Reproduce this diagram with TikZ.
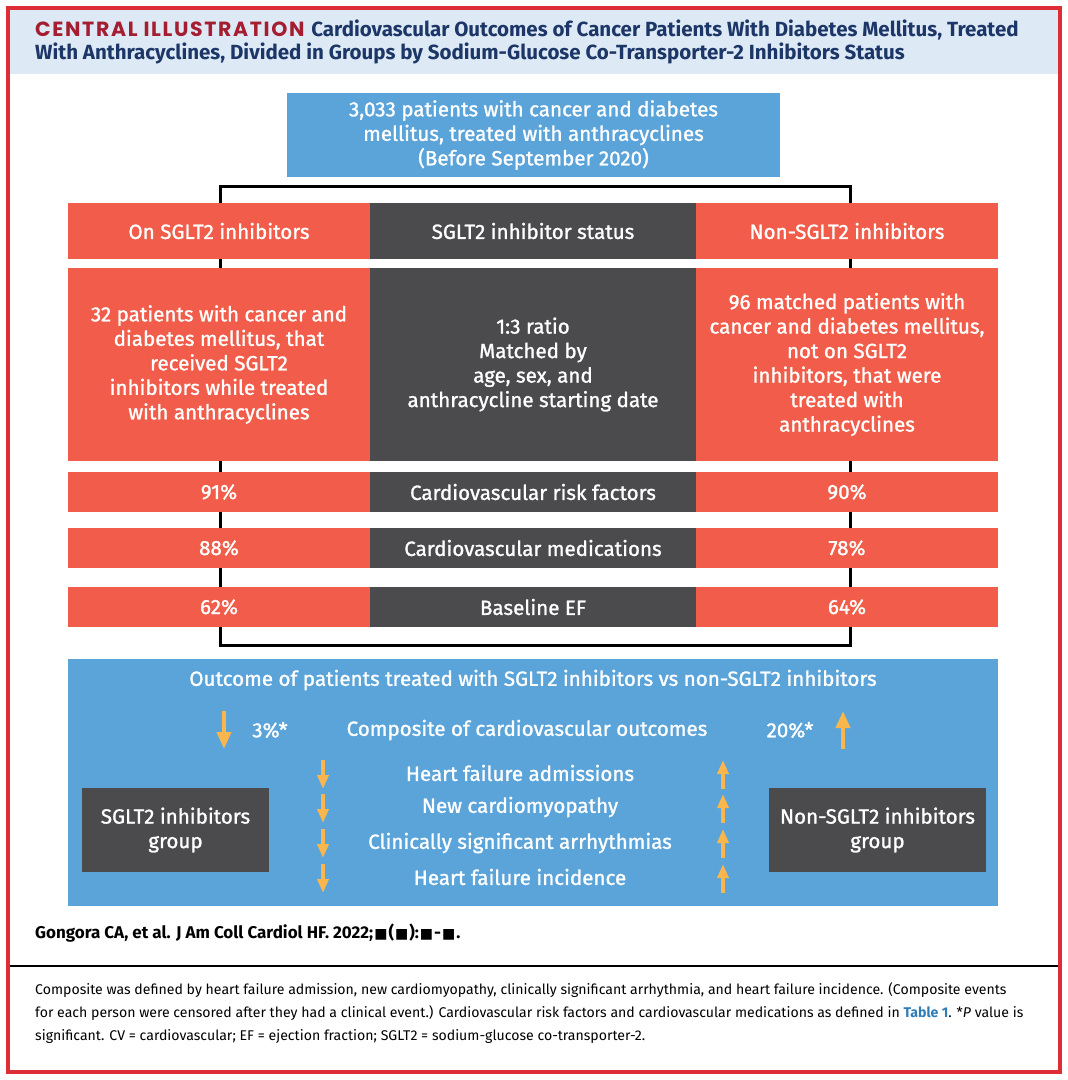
\documentclass[tikz,border=0pt]{standalone}
\usepackage{fontspec}
\setmainfont{Fira Sans}
\newfontfamily\boxfont[FakeBold=1.2]{Fira Sans}
\newfontfamily\dejavu{DejaVu Sans}
\newfontfamily\poppins[LetterSpace=8]{Poppins}
\usetikzlibrary{arrows.meta}
\definecolor{cblue}{HTML}{5BA4DA}
\definecolor{cred}{HTML}{F15D4A}
\definecolor{cdark}{HTML}{4B4A4D}
\definecolor{corange}{HTML}{F8B64C}
\definecolor{hdrbg}{HTML}{DEE9F6}
\definecolor{frame}{HTML}{DD2E35}
\definecolor{titlered}{HTML}{A51D30}
\definecolor{navy}{HTML}{1B3667}
\definecolor{tabblue}{HTML}{2E7DB8}
\tikzset{
  boxtext/.style={text=white, align=center, inner sep=0pt, font=\boxfont\fontsize{20.6}{24.5}\selectfont},
  redbox/.style={boxtext, fill=cred},
  darkbox/.style={boxtext, fill=cdark},
  bluebox/.style={boxtext, fill=cblue},
  plain/.style={text=white, inner sep=0pt, font=\boxfont\fontsize{20.6}{24.5}\selectfont},
  bigarrow/.style={corange, line width=4pt, -{Triangle[width=14pt,length=17pt]}},
  smallarrow/.style={corange, line width=3.5pt, -{Triangle[width=11pt,length=14pt]}},
}
\newcommand{\sq}{{\dejavu\fontsize{14}{18}\selectfont\kern1pt■\kern1pt}}
\begin{document}
\begin{tikzpicture}[x=1pt,y=-1pt]
\useasboundingbox (0,0) rectangle (1068,1080);
% frame and header
\fill[hdrbg] (10,10) rectangle (1058,74);
\draw[frame, line width=4pt] (8,8) rectangle (1060,1072);
\draw[black, line width=2.5pt] (10,966) -- (1058,966);
\node[anchor=west, inner sep=0pt, align=left, text=navy, font=\bfseries\fontsize{20.5}{23}\selectfont] (title) at (35,42)
 {{\color{titlered}\poppins\bfseries\fontsize{20.5}{23}\selectfont CENTRAL ILLUSTRATION}\hspace{2pt} Cardiovascular Outcomes of Cancer Patients With Diabetes Mellitus, Treated\\
 With Anthracyclines, Divided in Groups by Sodium-Glucose Co-Transporter-2 Inhibitors Status};
% connector frame
\draw[black, line width=3pt] (220,186) rectangle (850,645);
% top box
\node[bluebox, minimum width=493pt, minimum height=84pt] (top) at (533.5,135)
 {3,033 patients with cancer and diabetes\\mellitus, treated with anthracyclines\\(Before September 2020)};
% rows
\node[redbox, minimum width=302pt, minimum height=56pt] (l1) at (219,231) {On SGLT2 inhibitors};
\node[darkbox, minimum width=326pt, minimum height=56pt] (m1) at (533,231) {SGLT2 inhibitor status};
\node[redbox, minimum width=302pt, minimum height=56pt] (r1) at (847,231) {Non-SGLT2 inhibitors};
\node[redbox, minimum width=302pt, minimum height=193pt] (l2) at (219,364.5)
 {32 patients with cancer and\\diabetes mellitus, that\\received SGLT2\\inhibitors while treated\\with anthracyclines};
\node[darkbox, minimum width=326pt, minimum height=193pt] (m2) at (533,364.5)
 {1:3 ratio\\Matched by\\age, sex, and\\anthracycline starting date};
\node[redbox, minimum width=302pt, minimum height=193pt] (r2) at (847,364.5)
 {96 matched patients with\\cancer and diabetes mellitus,\\not on SGLT2\\inhibitors, that were\\treated with\\anthracyclines};
\node[redbox, minimum width=302pt, minimum height=40pt] (l3) at (219,492) {91\%};
\node[darkbox, minimum width=326pt, minimum height=40pt] (m3) at (533,492) {Cardiovascular risk factors};
\node[redbox, minimum width=302pt, minimum height=40pt] (r3) at (847,492) {90\%};
\node[redbox, minimum width=302pt, minimum height=40pt] (l4) at (219,548) {88\%};
\node[darkbox, minimum width=326pt, minimum height=40pt] (m4) at (533,548) {Cardiovascular medications};
\node[redbox, minimum width=302pt, minimum height=40pt] (r4) at (847,548) {78\%};
\node[redbox, minimum width=302pt, minimum height=40pt] (l5) at (219,607) {62\%};
\node[darkbox, minimum width=326pt, minimum height=40pt] (m5) at (533,607) {Baseline EF};
\node[redbox, minimum width=302pt, minimum height=40pt] (r5) at (847,607) {64\%};
% outcome box
\node[bluebox, minimum width=930pt, minimum height=247pt] (out) at (533,782.5) {};
\node[plain] (outt) at (533,680) {Outcome of patients treated with SGLT2 inhibitors vs non-SGLT2 inhibitors};
\node[plain] (comp) at (527,730) {Composite of cardiovascular outcomes};
\node[plain] (p3) at (270,730) {3\%*};
\node[plain] (p20) at (790,730) {20\%*};
\node[plain] (o1) at (520,773) {Heart failure admissions};
\node[plain] (o2) at (520,807) {New cardiomyopathy};
\node[plain] (o3) at (520,843) {Clinically significant arrhythmias};
\node[plain] (o4) at (520,877) {Heart failure incidence};
\node[darkbox, minimum width=187pt, minimum height=84pt] (gl) at (175.5,830) {SGLT2 inhibitors\\group};
\node[darkbox, minimum width=217pt, minimum height=84pt] (gr) at (877.5,830) {Non-SGLT2 inhibitors\\group};
% arrows
\draw[bigarrow] (224,711) -- (224,749);
\draw[bigarrow] (843,749) -- (843,711);
\foreach \y [count=\i] in {760,794,829,864}{
  \draw[smallarrow] (323,\y) -- (323,\y+29);
  \draw[smallarrow] (723,\y+29) -- (723,\y);
}
% citation
\node[anchor=west, inner sep=0pt, font=\bfseries\fontsize{17}{18}\selectfont] (cite) at (35,933)
 {Gongora CA, et al. J Am Coll Cardiol HF. 2022;\sq(\sq):\sq-\sq.};
% footnote
\node[anchor=north west, inner sep=0pt, align=left, font=\fontsize{14.1}{23}\selectfont] (foot) at (35,982)
 {Composite was defined by heart failure admission, new cardiomyopathy, clinically significant arrhythmia, and heart failure incidence. (Composite events\\
 for each person were censored after they had a clinical event.) Cardiovascular risk factors and cardiovascular medications as defined in {\color{tabblue}\bfseries Table 1}. *\textit{P} value is\\
 significant. CV = cardiovascular; EF = ejection fraction; SGLT2 = sodium-glucose co-transporter-2.};
\end{tikzpicture}
\end{document}
